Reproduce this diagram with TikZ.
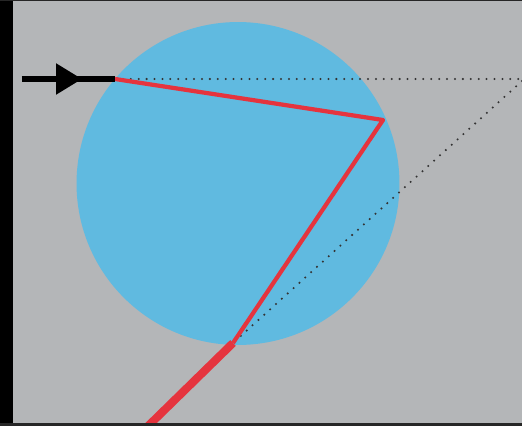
\documentclass[tikz,border=0pt]{standalone}
\usetikzlibrary{arrows.meta}
\definecolor{bgGray}{RGB}{180,182,184}
\definecolor{dropBlue}{RGB}{96,186,224}
\definecolor{rayRed}{RGB}{229,52,62}

\begin{document}
\begin{tikzpicture}[
  x=0.02cm, y=-0.02cm,
  drop/.style={fill=dropBlue},
  ray/.style={draw=rayRed, line width=2.4pt, line join=round},
  exitray/.style={draw=rayRed, line width=4.6pt},
  guide/.style={draw=black!80, line width=1.3pt, line cap=round, dash pattern=on 0pt off 4.5pt},
  inray/.style={draw=black, line width=3.1pt},
  arr/.style={inray, -{Triangle[length=5.2mm, width=6mm]}}
]
\useasboundingbox (0,0) rectangle (522,426);
\fill[bgGray] (0,0) rectangle (522,426);

% Droplet
\coordinate (centre) at (238,183.5);
\fill[drop] (centre) circle (3.23cm);

% Ray points
\coordinate (start) at (22,79);
\coordinate (tip) at (82,79);
\coordinate (entry) at (115,79);
\coordinate (reflect) at (383,120);
\coordinate (exit) at (233,343);
\coordinate (out) at (144,430);
\coordinate (far) at (519,79);
\coordinate (back) at (522,81);

% Dotted guides
\draw[guide] (entry) -- (far);
\draw[guide] (back) -- (exit);

% Red ray
\draw[ray] (entry) -- (reflect) -- (exit);
\draw[exitray] (exit) -- (out);

% Incoming arrow
\draw[inray] (start) -- (entry);
\draw[arr] (start) -- (tip);

% Frame
\fill[black] (0,0) rectangle (13,426);
\fill[black!85] (0,0) rectangle (522,1.5);
\fill[black!85] (0,423.5) rectangle (522,426);
\end{tikzpicture}
\end{document}
